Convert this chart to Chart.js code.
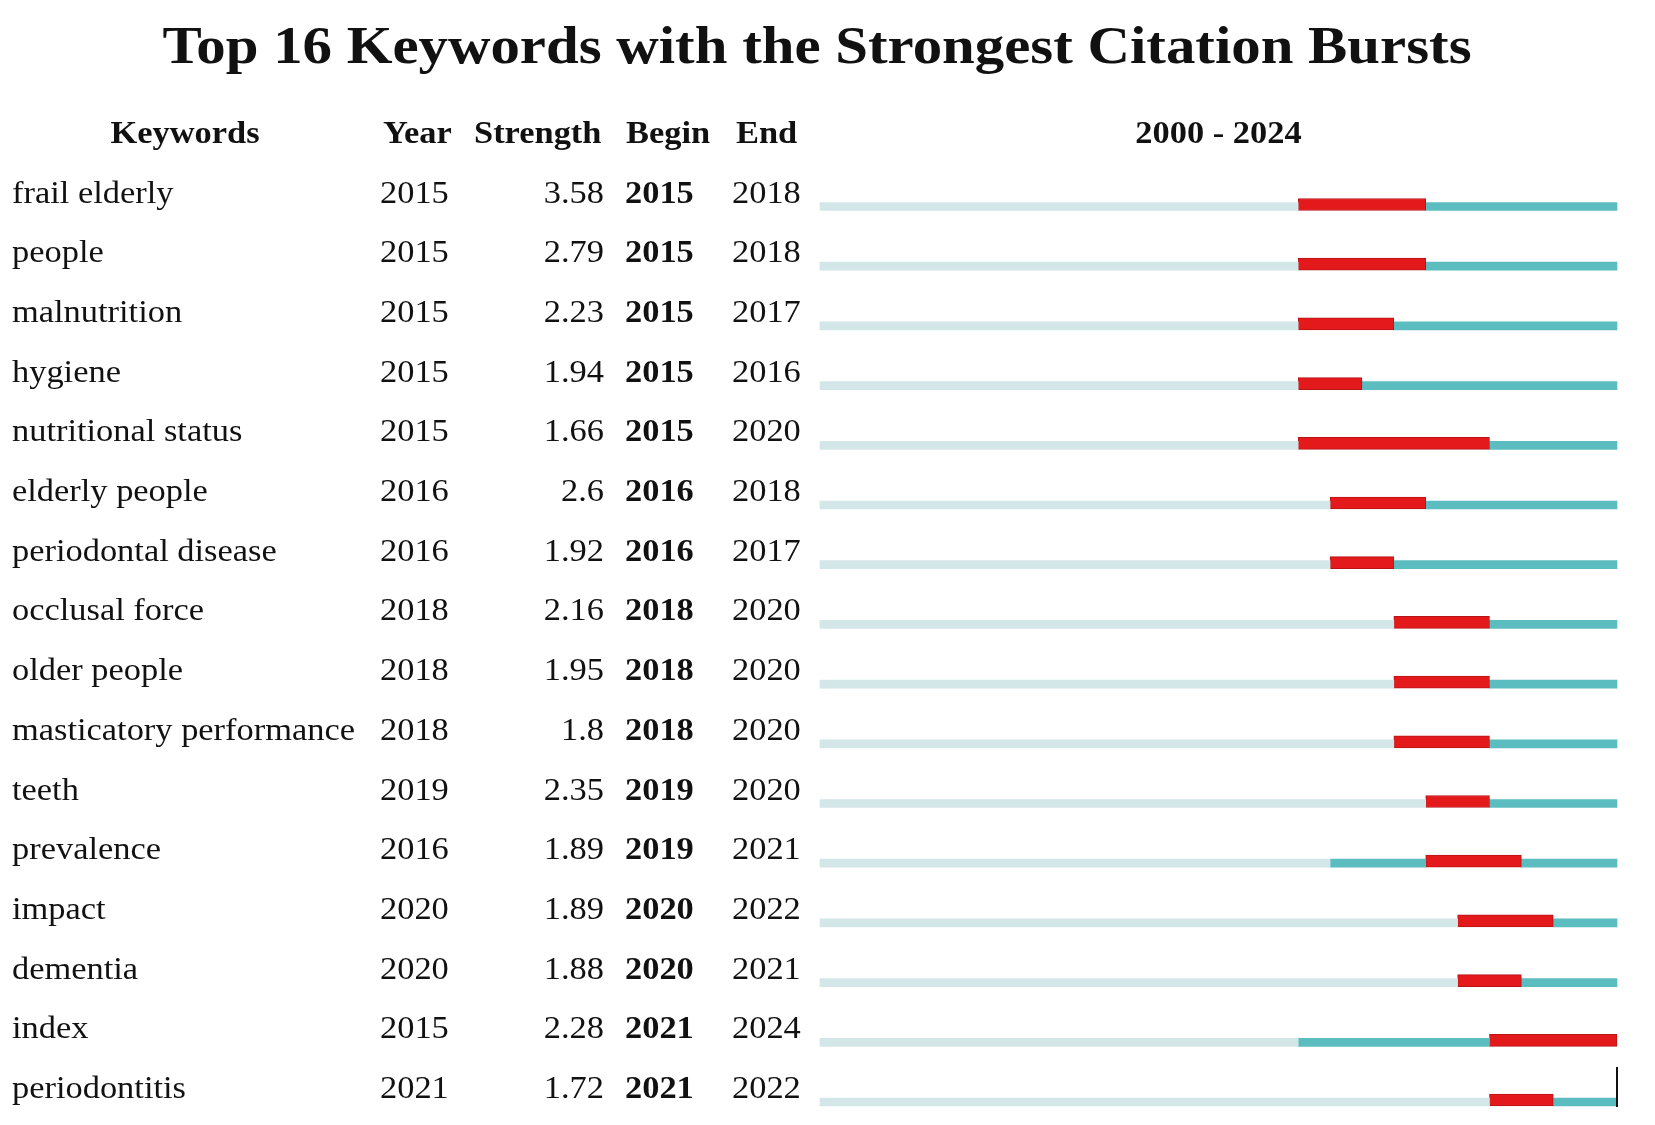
<!DOCTYPE html>
<html>
<head>
<meta charset="utf-8">
<script src="https://cdn.jsdelivr.net/npm/chart.js@4/dist/chart.umd.min.js"></script>
<style>
  html, body { margin: 0; padding: 0; background: #fff; }
  #wrap { width: 1655px; height: 1125px; }
</style>
</head>
<body>
<div id="wrap"><canvas id="burstChart" width="1655" height="1125"></canvas></div>
<script>
var keywords = ['frail elderly', 'people', 'malnutrition', 'hygiene', 'nutritional status',
    'elderly people', 'periodontal disease', 'occlusal force', 'older people',
    'masticatory performance', 'teeth', 'prevalence', 'impact', 'dementia', 'index', 'periodontitis'];
var years = [2015, 2015, 2015, 2015, 2015, 2016, 2016, 2018, 2018, 2018, 2019, 2016, 2020, 2020, 2015, 2021];
var strengths = ['3.58', '2.79', '2.23', '1.94', '1.66', '2.6', '1.92', '2.16', '1.95', '1.8', '2.35', '1.89', '1.89', '1.88', '2.28', '1.72'];
var begins = [2015, 2015, 2015, 2015, 2015, 2016, 2016, 2018, 2018, 2018, 2019, 2019, 2020, 2020, 2021, 2021];
var ends = [2018, 2018, 2017, 2016, 2020, 2018, 2017, 2020, 2020, 2020, 2020, 2021, 2022, 2021, 2024, 2022];
var firstYear = 2000;
var lastYear = 2024;

var FONT = '"Liberation Serif", "Times New Roman", serif';
var SX = 1.11;  // source image is stretched a bit horizontally

// floating bars built from the arrays above
var beforeData = years.map(function (y) { return [firstYear, y]; });
var waitData = years.map(function (y, i) { return begins[i] > y ? [y, begins[i]] : null; });
var burstData = begins.map(function (b, i) { return [b, ends[i] + 1]; });
var afterData = ends.map(function (e) { return e < lastYear ? [e + 1, lastYear + 1] : null; });

function txt(ctx, s, x, y, align, bold, size) {
    ctx.save();
    ctx.font = (bold ? 'bold ' : '') + size + 'px ' + FONT;
    ctx.fillStyle = '#111';
    ctx.textAlign = align;
    ctx.textBaseline = 'alphabetic';
    ctx.translate(x, y);
    ctx.scale(SX, 1);
    ctx.fillText(s, 0, 0);
    ctx.restore();
}

var tablePlugin = {
    id: 'table',
    beforeDatasetDraw: function (chart, args) {
        // burst bar sits on the same bottom line as the thin bars
        if (args.index === 2) {
            chart.ctx.save();
            chart.ctx.translate(0, -2);
        }
    },
    afterDatasetDraw: function (chart, args) {
        if (args.index === 2) chart.ctx.restore();
    },
    afterDraw: function (chart) {
        var ctx = chart.ctx;
        var ys = chart.scales.y;
        var xs = chart.scales.x;
        var area = chart.chartArea;

        txt(ctx, 'Top 16 Keywords with the Strongest Citation Bursts', 817, 63, 'center', true, 53);

        txt(ctx, 'Keywords', 185, 143, 'center', true, 31);
        txt(ctx, 'Year', 383, 143, 'left', true, 31);
        txt(ctx, 'Strength', 474, 143, 'left', true, 31);
        txt(ctx, 'Begin', 626, 143, 'left', true, 31);
        txt(ctx, 'End', 736, 143, 'left', true, 31);
        txt(ctx, firstYear + ' - ' + lastYear, (area.left + area.right) / 2, 143, 'center', true, 31);

        keywords.forEach(function (k, i) {
            var y = ys.getPixelForValue(i) - 4;
            txt(ctx, k, 12, y, 'left', false, 31);
            txt(ctx, String(years[i]), 380, y, 'left', false, 31);
            txt(ctx, strengths[i], 604, y, 'right', false, 31);
            txt(ctx, String(begins[i]), 625, y, 'left', true, 31);
            txt(ctx, String(ends[i]), 732, y, 'left', false, 31);
        });

        // small end marker on the last row
        var last = ys.getPixelForValue(keywords.length - 1);
        var xe = xs.getPixelForValue(lastYear + 1);
        ctx.save();
        ctx.strokeStyle = '#111';
        ctx.lineWidth = 2;
        ctx.beginPath();
        ctx.moveTo(xe, last - 35);
        ctx.lineTo(xe, last + 5);
        ctx.stroke();
        ctx.restore();
    }
};

var ctx = document.getElementById('burstChart').getContext('2d');
var chart = new Chart(ctx, {
    type: 'bar',
    data: {
        labels: keywords,
        datasets: [{
            label: 'before',
            data: beforeData,
            backgroundColor: '#d3e6e8',
            barThickness: 8
        }, {
            label: 'active',
            data: waitData,
            backgroundColor: '#5cbdc0',
            barThickness: 8
        }, {
            label: 'burst',
            data: burstData,
            backgroundColor: '#e3191b',
            borderColor: '#b81416',
            borderWidth: 1,
            borderSkipped: false,
            barThickness: 12
        }, {
            label: 'after',
            data: afterData,
            backgroundColor: '#5cbdc0',
            barThickness: 8
        }]
    },
    options: {
        indexAxis: 'y',
        responsive: false,
        animation: false,
        datasets: {
            bar: { grouped: false, clip: false }
        },
        layout: {
            padding: { top: 206.5, bottom: 23, left: 0, right: 38 }
        },
        plugins: {
            legend: { display: false },
            title: { display: false },
            tooltip: { enabled: false }
        },
        scales: {
            x: {
                type: 'linear',
                min: firstYear,
                max: lastYear + 1,
                display: false
            },
            y: {
                type: 'category',
                offset: false,
                ticks: { display: false },
                grid: { display: false },
                border: { display: false },
                afterFit: function (scale) { scale.width = 820; }
            }
        }
    },
    plugins: [tablePlugin]
});
</script>
</body>
</html>
